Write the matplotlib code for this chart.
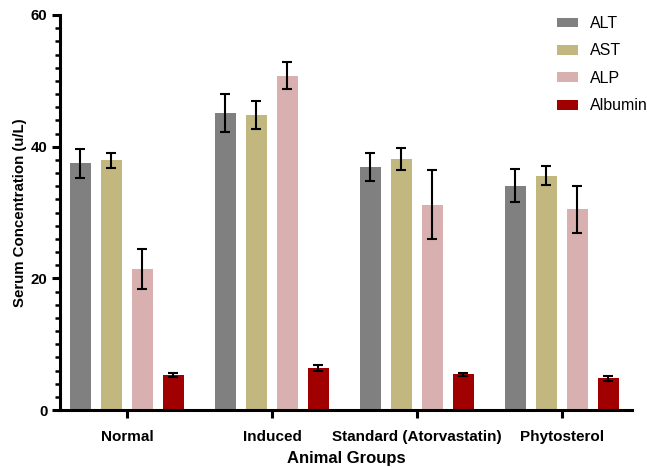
import numpy as np
import matplotlib.pyplot as plt
from matplotlib.ticker import MultipleLocator

plt.rcParams['font.family'] = ['Liberation Sans', 'DejaVu Sans']

# data
groups = ['Normal', 'Induced', 'Standard (Atorvastatin)', 'Phytosterol']
markers = ['ALT', 'AST', 'ALP', 'Albumin']
alt = [37.5, 45.1, 36.9, 34.1]
ast = [37.9, 44.8, 38.1, 35.6]
alp = [21.4, 50.8, 31.2, 30.5]
albumin = [5.3, 6.4, 5.4, 4.8]
alt_err = [2.2, 2.9, 2.1, 2.5]
ast_err = [1.2, 2.1, 1.7, 1.4]
alp_err = [3.0, 2.0, 5.3, 3.6]
albumin_err = [0.25, 0.4, 0.25, 0.4]

values = [alt, ast, alp, albumin]
errors = [alt_err, ast_err, alp_err, albumin_err]
colors = ['#808080', '#C2B77F', '#D8B0B0', '#A00000']

fig = plt.figure(figsize=(6.47, 4.67), dpi=100)
ax = fig.add_axes([60 / 647, 1 - 410 / 467, 572 / 647, 395 / 467])

x = np.arange(len(groups))
pitch = 0.2138
width = 0.143
for i in range(len(markers)):
    pos = x + (i - 1.5) * pitch
    ax.bar(pos, values[i], width, color=colors[i], label=markers[i])
    ax.errorbar(pos, values[i], yerr=errors[i], fmt='none', ecolor='black',
                elinewidth=1.5, capsize=3.8, capthick=1.5)

ax.set_xlim(-0.462, 3.483)
ax.set_ylim(0, 60)
ax.yaxis.set_major_locator(MultipleLocator(20))
ax.yaxis.set_minor_locator(MultipleLocator(2))
ax.set_xticks(x)
ax.set_xticklabels(groups, fontsize=11, fontweight='bold')
for lab in ax.get_yticklabels():
    lab.set_fontsize(10.8)
    lab.set_fontweight('bold')

ax.spines['top'].set_visible(False)
ax.spines['right'].set_visible(False)
ax.spines['left'].set_linewidth(2.2)
ax.spines['bottom'].set_linewidth(2.2)
ax.tick_params(axis='both', which='major', length=6, width=2.2, pad=3)
ax.tick_params(axis='x', which='major', pad=8.5)
ax.tick_params(axis='y', which='minor', length=3.5, width=1.8)

ax.set_ylabel('Serum Concentration (u/L)', fontsize=10.8, fontweight='bold', labelpad=3)
ax.set_xlabel('Animal Groups', fontsize=12, fontweight='bold', va='bottom')
ax.xaxis.set_label_coords(0.5, (410 - 466) / 395)

fig.legend(loc='upper left', bbox_to_anchor=(557 / 647, 1 - 16 / 467),
           frameon=False, fontsize=11.5, handlelength=1.32, handleheight=0.55,
           handletextpad=0.75, labelspacing=0.78, borderpad=0, borderaxespad=0)

plt.savefig('out.png', dpi=100)
